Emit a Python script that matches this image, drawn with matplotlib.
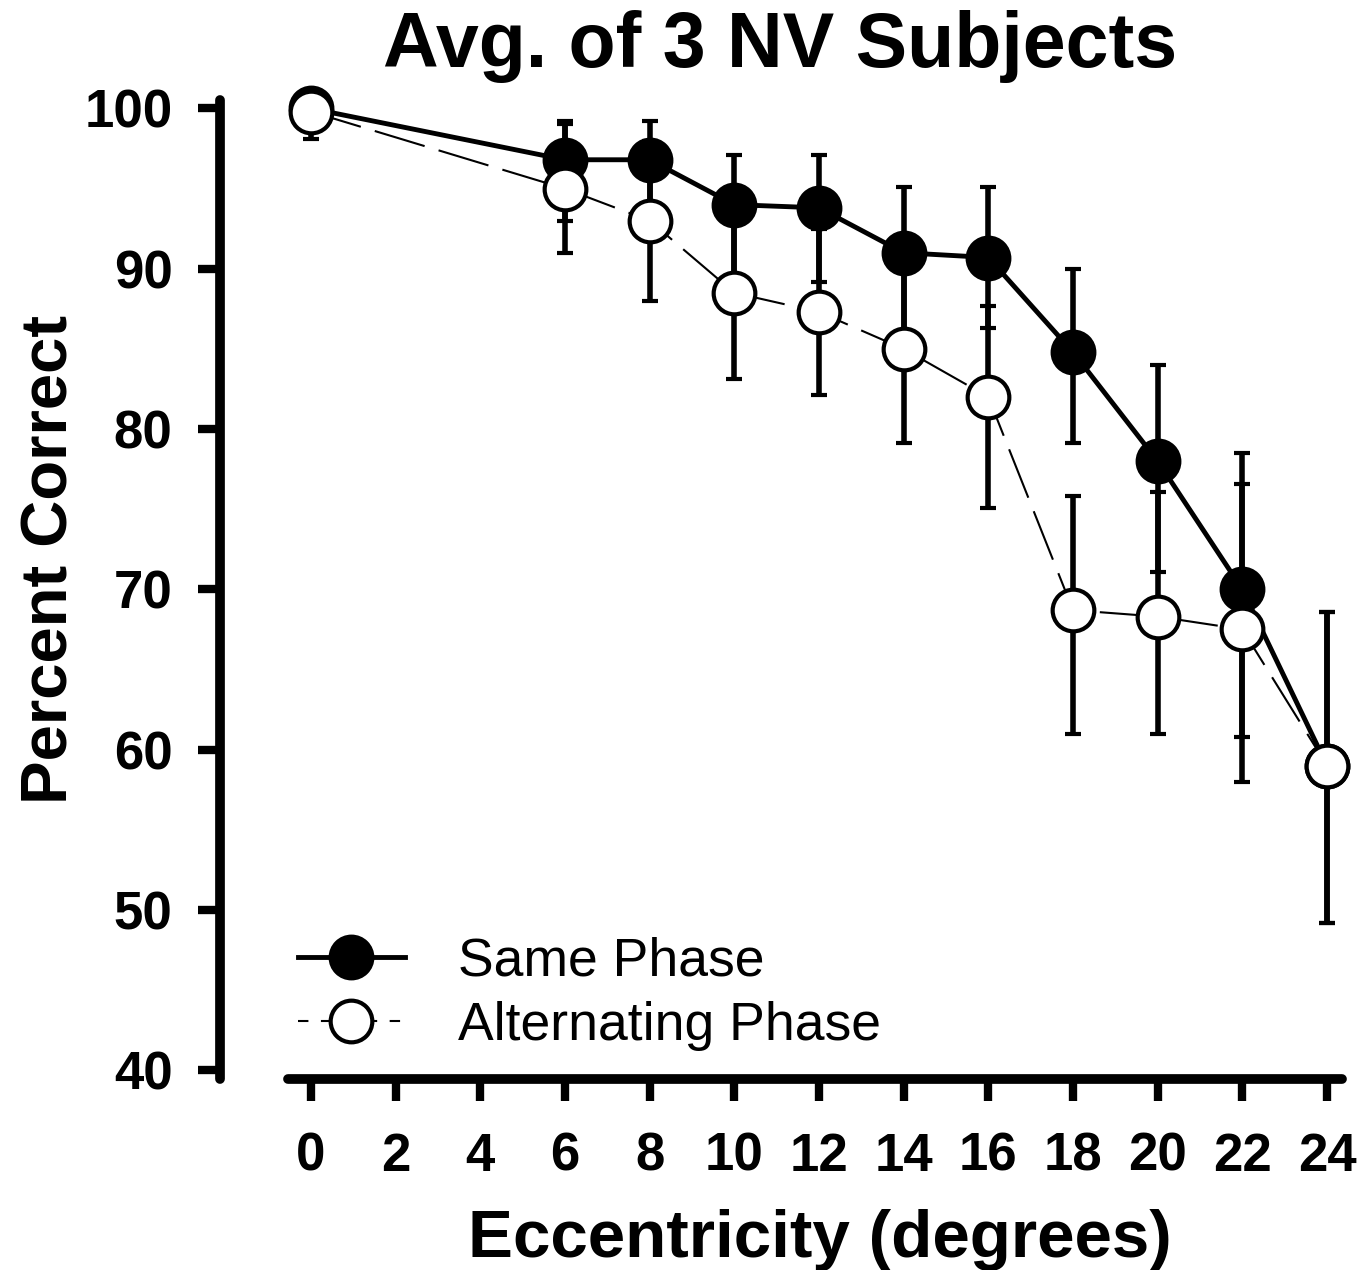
import matplotlib
matplotlib.use("Agg")
import matplotlib.pyplot as plt
from matplotlib.lines import Line2D

plt.rcParams['font.family'] = ['Liberation Sans', 'DejaVu Sans']

# eccentricity (degrees) and percent correct
ecc = [0, 6, 8, 10, 12, 14, 16, 18, 20, 22, 24]

same = [100, 96.8, 96.8, 94.0, 93.8, 91.0, 90.7, 84.8, 78.0, 70.0, 59.0]
same_lo = [0.5, 3.8, 3.5, 5.5, 4.6, 5.0, 4.4, 5.7, 6.9, 9.2, 9.8]
same_hi = [0.5, 2.4, 2.4, 3.1, 3.3, 4.1, 4.4, 5.2, 6.0, 8.5, 9.6]

alt = [99.8, 95.0, 93.0, 88.5, 87.3, 85.0, 82.0, 68.7, 68.3, 67.5, 59.0]
alt_lo = [1.7, 4.0, 5.0, 5.4, 5.2, 5.9, 6.9, 7.7, 7.3, 9.5, 9.8]
alt_hi = [1.2, 4.0, 5.0, 5.4, 5.2, 5.9, 5.7, 7.1, 7.8, 9.1, 9.6]

xticks = list(range(0, 25, 2))
yticks = list(range(40, 101, 10))

fig = plt.figure(figsize=(13.66, 12.7), dpi=100)
ax = fig.add_axes([0.2106, 0.1504, 0.7717, 0.7705])

# error bars first, under the markers
for y, lo, hi in [(same, same_lo, same_hi), (alt, alt_lo, alt_hi)]:
    eb = ax.errorbar(ecc, y, yerr=[lo, hi], fmt='none', ecolor='black',
                     elinewidth=4, capsize=6, capthick=3, zorder=1)
    for art in eb.lines[1] + eb.lines[2]:
        art.set_clip_on(False)

ax.plot(ecc, same, '-', color='black', lw=3.5, marker='o', ms=30,
        mfc='black', mec='black', mew=3, zorder=3, clip_on=False)
ax.plot(ecc, alt, color='black', lw=1.5, dashes=(25, 7), marker='o', ms=30,
        mfc='white', mec='black', mew=3, zorder=4, clip_on=False)

ax.set_xlim(-0.55, 24.35)
ax.set_ylim(39.45, 100.5)
ax.set_xticks(xticks)
ax.set_yticks(yticks)

for s in ['top', 'right']:
    ax.spines[s].set_visible(False)
for s in ['left', 'bottom']:
    ax.spines[s].set_linewidth(7)
    ax.spines[s].set_capstyle('round')
ax.spines['left'].set_position(('outward', 49))

ax.tick_params(direction='out', length=16, width=6, labelsize=38, pad=18)
ax.tick_params(axis='x', pad=22)
for lbl in ax.get_xticklabels() + ax.get_yticklabels():
    lbl.set_fontweight('bold')

fig.text(780 / 1366, 1 - 67 / 1270, 'Avg. of 3 NV Subjects', ha='center',
         va='baseline', fontsize=55.5, fontweight='bold')
fig.text(820 / 1366, 1 - 1257 / 1270, 'Eccentricity (degrees)', ha='center',
         va='baseline', fontsize=48.5, fontweight='bold')
fig.text(68 / 1366, 1 - 560 / 1270, 'Percent Correct', ha='center',
         va='baseline', rotation=90, rotation_mode='anchor',
         fontsize=47, fontweight='bold')

handles = [
    Line2D([], [], color='black', lw=3.5, marker='o', ms=30,
           mfc='black', mec='black', mew=3),
    Line2D([], [], color='black', lw=1.5, dashes=(5, 6), marker='o', ms=30,
           mfc='white', mec='black', mew=3),
]
ax.legend(handles, ['Same Phase', 'Alternating Phase'], loc='upper left',
          bbox_to_anchor=(298 / 1366, 1 - 937 / 1270),
          bbox_transform=fig.transFigure, frameon=False, fontsize=38.5,
          handlelength=2.0, handletextpad=1.0, labelspacing=0.26,
          borderpad=0, borderaxespad=0)

fig.savefig('out.png', dpi=100)
